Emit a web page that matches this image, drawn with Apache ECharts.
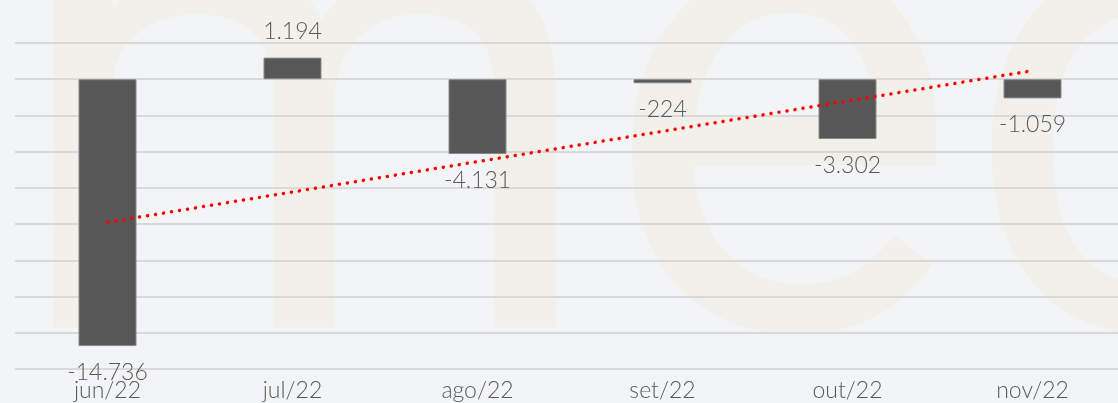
<!DOCTYPE html>
<html><head><meta charset="utf-8">
<script src="https://cdn.jsdelivr.net/npm/echarts@6/dist/echarts.min.js"></script>
<style>html,body{margin:0;padding:0;background:#f3f4f6;overflow:hidden;width:1118px;height:403px;}#c{width:1125px;height:403px;}</style>
</head><body><div id="c"></div>
<script>
const categories = ['jun/22','jul/22','ago/22','set/22','out/22','nov/22'];
const values = [-14736, 1194, -4131, -224, -3302, -1059];
// trend line end points
const trendCats = ['jun/22','nov/22'];
const trendVals = [-7900, 470];
const yMin = -16000, yMax = 2000, yStep = 2000;

const fmt = v => (v < 0 ? '-' : '') + Math.abs(v).toLocaleString('de-DE');

const chart = echarts.init(document.getElementById('c'), null, {renderer:'canvas'});
chart.setOption({
  backgroundColor: '#f3f4f6',
  animation: false,
  graphic: [{
    type: 'text', z: -10, silent: true,
    left: 7, top: -181,
    style: { text: 'mec', font: 'normal 678px Roboto', fill: '#f1f0ea' }
  }],
  grid: { left: 15, top: 43, right: 0, bottom: 34, containLabel: false },
  xAxis: {
    type: 'category', data: categories, position: 'bottom',
    axisLine: { show: false }, axisTick: { show: false },
    axisLabel: { color: '#595959', fontSize: 23, fontFamily: 'Lato', fontWeight: 300, margin: 10 }
  },
  yAxis: {
    type: 'value', min: yMin, max: yMax, interval: yStep,
    axisLabel: { show: false }, axisLine: { show: false }, axisTick: { show: false },
    splitLine: { lineStyle: { color: '#d9d9d9', width: 2 } }
  },
  series: [{
    type: 'bar', barWidth: 58, z: 2,
    data: values.map(v => v < 0 ? { value: v, label: { position: 'bottom' } } : v),
    itemStyle: { color: '#575757', borderColor: '#8a8a8a', borderWidth: 1 },
    label: {
      show: true, color: '#595959', fontSize: 23, fontFamily: 'Lato', fontWeight: 300,
      formatter: p => fmt(p.value),
      position: 'top', distance: 15
    }
  }, {
    type: 'line', data: trendCats.map((c,i)=>[c, trendVals[i]]), z: 5,
    symbol: 'none', silent: true,
    lineStyle: { color: '#ff0000', width: 3.5, type: [0.1, 8], cap: 'round' }
  }]
});
</script></body></html>
